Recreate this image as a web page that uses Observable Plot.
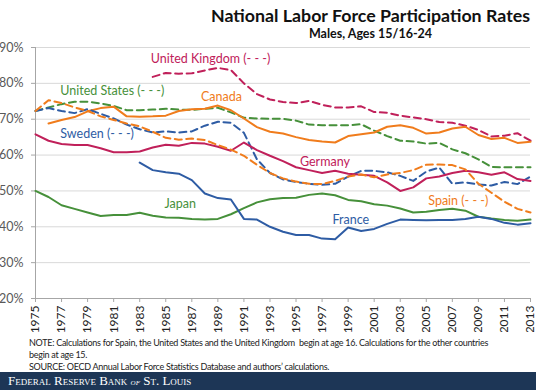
<!DOCTYPE html>
<html><head><meta charset="utf-8">
<script src="https://cdn.jsdelivr.net/npm/d3@7"></script>
<script src="https://cdn.jsdelivr.net/npm/@observablehq/plot@0.6"></script>
<style>
body{margin:0;background:#fff;font-family:Lato,"Open Sans",sans-serif;}
#wrap{width:536px;height:390px;position:relative;overflow:hidden;background:#fff;}
#head{position:absolute;right:6px;top:4px;text-align:center;color:#111;font-weight:700;white-space:nowrap;}
#title{font-size:17.8px;line-height:22px;}
#sub{font-size:12.5px;line-height:16px;margin-top:0px;}
#chart{position:absolute;left:0;top:40px;}
#notes{position:absolute;left:29px;top:337px;font-size:9px;letter-spacing:-0.28px;line-height:12px;color:#222;white-space:nowrap;}
#bar{position:absolute;left:0;top:372px;width:536px;height:18px;background:#1d3656;color:#fff;font-family:"Liberation Serif","DejaVu Serif",serif;font-variant:small-caps;font-size:13px;line-height:18px;padding-left:8px;box-sizing:border-box;white-space:nowrap;}
#bar i{font-size:10px;}
</style>
</head><body>
<div id="wrap">
<div id="head"><div id="title">National Labor Force Participation Rates</div><div id="sub">Males, Ages 15/16-24</div></div>
<div id="chart"></div>
<div id="notes">NOTE: Calculations for Spain, the United States and the United Kingdom&nbsp; begin at age 16. Calculations for the other countries<br>begin at age 15.<br>SOURCE: OECD Annual Labor Force Statistics Database and authors’ calculations.</div>
<div id="bar">Federal Reserve Bank <i>of</i> St. Louis</div>
</div>
<script>
const years = [1975,1976,1977,1978,1979,1980,1981,1982,1983,1984,1985,1986,1987,1988,1989,1990,1991,1992,1993,1994,1995,1996,1997,1998,1999,2000,2001,2002,2003,2004,2005,2006,2007,2008,2009,2010,2011,2012,2013];

const unitedKingdom = [null,null,null,null,null,null,null,null,null,81.8,82.9,82.7,82.8,83.6,84.3,83.7,80.0,77.0,75.5,74.8,74.5,75.1,74.0,73.3,73.3,73.6,72.0,71.8,71.0,70.5,70.0,69.2,69.0,68.2,67.0,65.2,65.4,66.1,64.0];
const unitedStates = [72.3,73.3,74.2,74.9,74.9,74.4,73.7,72.5,72.5,72.7,72.9,72.7,72.6,72.9,73.2,71.9,70.4,70.2,70.1,70.1,69.6,68.5,68.3,68.3,68.3,68.6,66.8,65.3,64.0,63.8,63.2,63.4,61.6,60.5,58.8,56.7,56.6,56.6,56.6];
const canada = [null,68.8,69.8,70.6,72.2,73.1,73.5,70.8,70.7,70.8,71.0,72.3,72.8,72.9,73.8,72.5,70.2,67.8,66.5,66.0,65.0,64.2,63.8,63.5,65.3,65.8,66.3,67.9,68.3,67.6,66.0,66.3,67.4,67.9,65.6,64.5,64.8,63.4,63.7];
const sweden = [72.3,73.1,72.3,71.7,72.8,71.5,70.2,68.5,67.2,66.3,66.6,66.3,66.6,68.2,69.3,69.0,66.2,58.8,55.0,53.2,52.5,52.0,51.7,52.0,54.0,55.6,55.6,55.2,54.2,52.8,55.4,56.5,52.0,52.4,51.8,51.5,52.5,51.9,54.0];
const germany = [65.8,64.0,63.1,62.8,62.8,61.9,60.8,60.8,61.0,62.1,62.9,62.6,63.4,63.2,62.3,61.2,63.5,61.4,59.8,58.3,56.6,55.8,55.0,55.6,54.8,54.5,54.2,52.4,50.0,51.0,53.5,54.0,55.0,55.6,55.2,54.5,55.2,53.3,52.8];
const spain = [72.3,75.3,74.5,73.3,72.3,70.8,69.8,68.8,68.0,66.5,64.8,64.3,64.6,64.2,62.8,61.5,59.8,57.3,55.0,53.5,52.6,52.0,51.9,52.8,54.0,54.6,53.8,54.6,55.0,55.8,57.3,57.4,57.2,56.0,52.0,49.5,47.0,45.0,44.0];
const japan = [50.0,48.3,46.0,45.0,44.0,43.0,43.3,43.3,43.9,43.1,42.6,42.5,42.2,42.0,42.2,43.5,45.2,46.8,47.7,48.0,48.1,48.9,49.3,48.8,47.5,47.1,46.3,45.9,45.1,44.0,44.2,44.7,45.0,44.5,42.8,42.3,41.9,41.7,42.0];
const france = [null,null,null,null,null,null,null,null,57.9,55.8,55.2,54.8,53.0,49.3,48.0,47.6,42.2,42.0,40.0,38.6,37.7,37.7,36.7,36.5,39.8,38.8,39.4,40.8,42.0,41.9,41.8,41.9,41.9,42.2,42.8,42.2,41.1,40.6,41.0];

const countries = ["United Kingdom","United States","Canada","Sweden","Germany","Spain","Japan","France"];
const seriesValues = [unitedKingdom,unitedStates,canada,sweden,germany,spain,japan,france];
const colors = ["#c0205a","#46903a","#f07c1c","#2e5ca4","#c0205a","#f07c1c","#46903a","#2e5ca4"];
const dashed = [true,true,false,true,false,true,false,false];

const labelTexts = ["United Kingdom (- - -)","United States (- - -)","Canada","Sweden (- - -)","Germany","Spain (- - -)","Japan","France"];
const labelYears = [1983.85,1976.9,1987.7,1976.9,1995.3,2005.15,1984.9,1997.8];
const labelValues = [86.9,77.9,76.2,65.9,58.2,47.3,46.3,42.0];

const yTicks = [20,30,40,50,60,70,80,90];
const xTicks = years.filter((d, i) => i % 2 === 0);

const lineMarks = countries.map((c, i) => {
  const data = years.map((yr, j) => ({year: yr, value: seriesValues[i][j]})).filter(d => d.value != null);
  return Plot.line(data, {x: "year", y: "value", stroke: colors[i], strokeWidth: 2,
    strokeDasharray: dashed[i] ? "7,4.5" : null, curve: "linear"});
});

const labels = countries.map((c, i) => ({text: labelTexts[i], year: labelYears[i], value: labelValues[i], color: colors[i]}));

const chart = Plot.plot({
  width: 536,
  height: 292,
  marginTop: 7,
  marginBottom: 34,
  marginLeft: 35,
  marginRight: 6,
  style: {fontFamily: "Lato, 'Open Sans', sans-serif", fontSize: "12px", color: "#333", background: "#fff"},
  x: {domain: [years[0], years[years.length - 1]]},
  y: {domain: [yTicks[0], yTicks[yTicks.length - 1]]},
  marks: [
    Plot.gridY(yTicks, {stroke: "#d9d9d9", strokeOpacity: 1}),
    Plot.ruleX([years[0]], {stroke: "#a6a6a6"}),
    Plot.ruleY([yTicks[0]], {stroke: "#a6a6a6"}),
    Plot.axisY(yTicks, {tickFormat: d => d + "%", tickSize: 4, tickPadding: 8, stroke: "#a6a6a6", fill: "#595959", fontSize: 12.5, label: null}),
    Plot.axisX(xTicks, {tickFormat: d => String(d), tickRotate: -90, tickSize: 4, tickPadding: 3, stroke: "#a6a6a6", fill: "#222", fontSize: 12, label: null}),
    ...lineMarks,
    Plot.text(labels, {x: "year", y: "value", text: "text", fill: "color", textAnchor: "start", lineAnchor: "middle", fontSize: 12.5})
  ]
});
document.getElementById("chart").appendChild(chart);
</script>
</body></html>
